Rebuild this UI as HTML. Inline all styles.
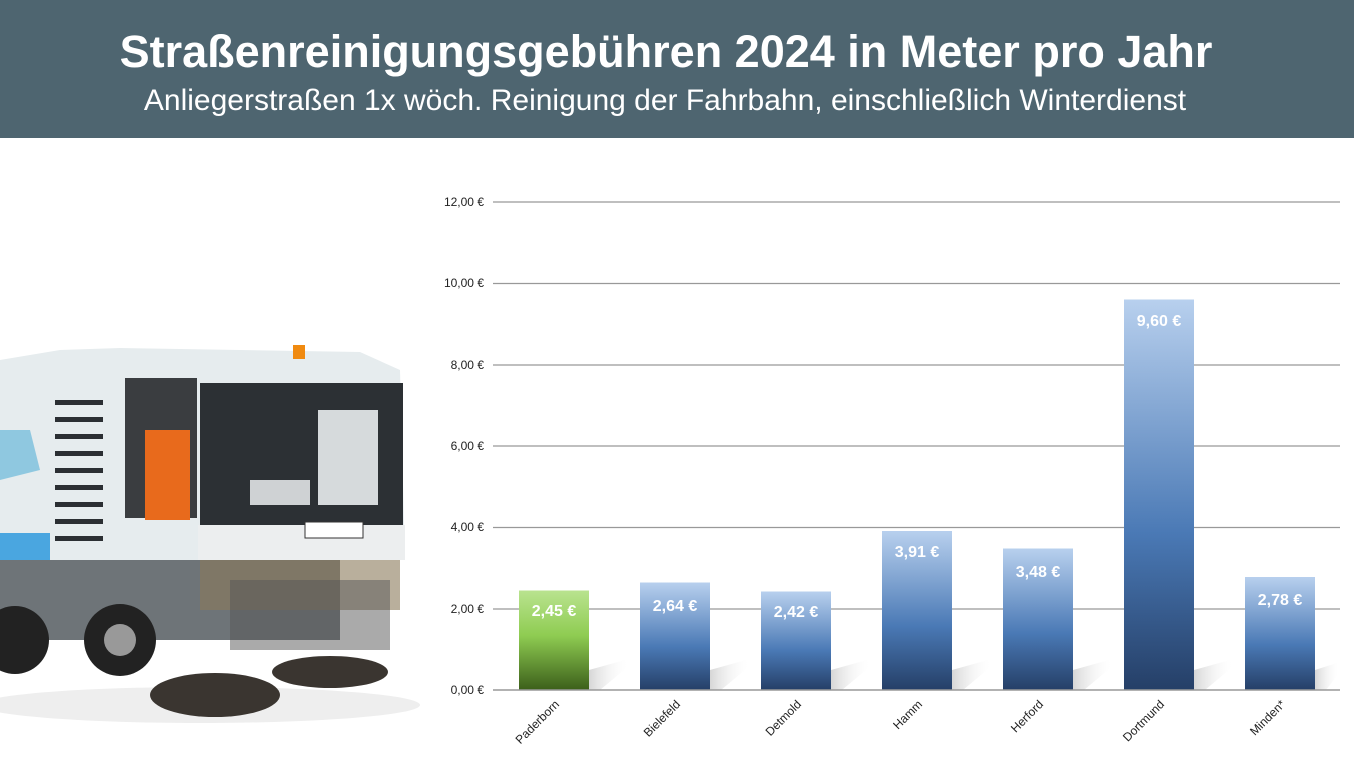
<!DOCTYPE html>
<html><head><meta charset="utf-8"><style>
body{margin:0;width:1354px;height:772px;background:#fff;overflow:hidden;font-family:"Liberation Sans",Arial,sans-serif;position:relative}
.hdr{position:absolute;left:0;top:0;width:1354px;height:138px;background:#4e6570;color:#fff;text-align:center}
.t1{position:absolute;left:0;right:0;top:26px;font-size:45px;font-weight:bold;text-align:center;white-space:nowrap}
.t2{position:absolute;left:0;right:0;top:84px;font-size:30px;white-space:nowrap}
</style></head><body>
<div class="hdr"><div class="t1" style="left:-22px">Straßenreinigungsgebühren 2024 in Meter pro Jahr</div><div class="t2" style="left:-24px">Anliegerstraßen 1x wöch. Reinigung der Fahrbahn, einschließlich Winterdienst</div></div>
<svg width="1354" height="772" style="position:absolute;left:0;top:0">
<defs>
<linearGradient id="b" x1="0" y1="0" x2="0" y2="1"><stop offset="0" stop-color="#b8d0ee"/><stop offset="0.6" stop-color="#4a79b5"/><stop offset="1" stop-color="#253f67"/></linearGradient>
<linearGradient id="g" x1="0" y1="0" x2="0" y2="1"><stop offset="0" stop-color="#b9e38f"/><stop offset="0.45" stop-color="#8fcc52"/><stop offset="1" stop-color="#3c5f1a"/></linearGradient>
<linearGradient id="sh" x1="0" y1="0" x2="1" y2="0"><stop offset="0" stop-color="#ccc"/><stop offset="1" stop-color="#fff" stop-opacity="0"/></linearGradient>
</defs>
<g>
<ellipse cx="200" cy="705" rx="220" ry="18" fill="#eee"/>
<path d="M0 360 L60 350 L120 348 L360 352 L400 370 L405 560 L0 560 Z" fill="#e6ecee"/>
<rect x="0" y="560" width="340" height="80" fill="#6e7478"/>
<rect x="0" y="533" width="50" height="27" fill="#4aa6e0"/>
<path d="M0 430 L30 430 L40 470 L0 480Z" fill="#8fc8e0"/>
<g fill="#2b2f33"><rect x="55" y="400" width="48" height="5"/><rect x="55" y="417" width="48" height="5"/><rect x="55" y="434" width="48" height="5"/><rect x="55" y="451" width="48" height="5"/><rect x="55" y="468" width="48" height="5"/><rect x="55" y="485" width="48" height="5"/><rect x="55" y="502" width="48" height="5"/><rect x="55" y="519" width="48" height="5"/><rect x="55" y="536" width="48" height="5"/></g>
<rect x="125" y="378" width="72" height="140" fill="#3a3d40"/>
<rect x="145" y="430" width="45" height="90" fill="#e86a1c"/>
<rect x="200" y="383" width="203" height="142" fill="#2c3034"/>
<rect x="318" y="410" width="60" height="95" fill="#d6dadc"/>
<rect x="250" y="480" width="60" height="25" fill="#cfd2d4"/>
<rect x="198" y="525" width="207" height="35" fill="#eceeef"/>
<rect x="305" y="522" width="58" height="16" fill="#fff" stroke="#333"/>
<rect x="293" y="345" width="12" height="14" fill="#f08a10"/>
<rect x="200" y="560" width="200" height="50" fill="#8a7a5a" opacity=".6"/>
<circle cx="120" cy="640" r="36" fill="#222"/><circle cx="120" cy="640" r="16" fill="#999"/>
<circle cx="15" cy="640" r="34" fill="#222"/>
<ellipse cx="215" cy="695" rx="65" ry="22" fill="#3a3530"/>
<ellipse cx="330" cy="672" rx="58" ry="16" fill="#3a3530"/>
<rect x="230" y="580" width="160" height="70" fill="#555" opacity=".5"/>
</g>
<g stroke="#999" stroke-width="1.3">
<line x1="493" x2="1340" y1="202" y2="202"/><line x1="493" x2="1340" y1="283.5" y2="283.5"/><line x1="493" x2="1340" y1="365" y2="365"/><line x1="493" x2="1340" y1="446" y2="446"/><line x1="493" x2="1340" y1="527.5" y2="527.5"/><line x1="493" x2="1340" y1="609" y2="609"/>
</g>
<g font-size="12" fill="#222" text-anchor="end">
<text x="484" y="206">12,00 €</text><text x="484" y="287">10,00 €</text><text x="484" y="369">8,00 €</text><text x="484" y="450">6,00 €</text><text x="484" y="531">4,00 €</text><text x="484" y="613">2,00 €</text><text x="484" y="694">0,00 €</text>
</g>
<g fill="url(#sh)" opacity=".8">
<polygon points="589,690 589,670 625,660 630,665 600,690"/><polygon points="710,690 710,670 746,660 751,665 721,690"/><polygon points="831,690 831,670 867,660 872,665 842,690"/><polygon points="952,690 952,670 988,660 993,665 963,690"/><polygon points="1073,690 1073,670 1109,660 1114,665 1084,690"/><polygon points="1194,690 1194,670 1230,660 1235,665 1205,690"/><polygon points="1315,690 1315,670 1340,662 1340,672 1326,690"/>
</g>
<rect x="519" y="590.5" width="70" height="99.5" fill="url(#g)"/>
<rect x="640" y="582.5" width="70" height="107.5" fill="url(#b)"/>
<rect x="761" y="591.5" width="70" height="98.5" fill="url(#b)"/>
<rect x="882" y="531" width="70" height="159" fill="url(#b)"/>
<rect x="1003" y="548.5" width="70" height="141.5" fill="url(#b)"/>
<rect x="1124" y="299.5" width="70" height="390.5" fill="url(#b)"/>
<rect x="1245" y="577" width="70" height="113" fill="url(#b)"/>
<line x1="493" x2="1340" y1="690" y2="690" stroke="#999" stroke-width="1.5"/>
<g font-size="16" font-weight="bold" fill="#fff" text-anchor="middle">
<text x="554" y="616">2,45 €</text><text x="675" y="611">2,64 €</text><text x="796" y="617">2,42 €</text><text x="917" y="557">3,91 €</text><text x="1038" y="577">3,48 €</text><text x="1159" y="326">9,60 €</text><text x="1280" y="605">2,78 €</text>
</g>
<g font-size="12" fill="#222" text-anchor="end">
<text transform="translate(560,705) rotate(-45)">Paderborn</text>
<text transform="translate(681,705) rotate(-45)">Bielefeld</text>
<text transform="translate(802,705) rotate(-45)">Detmold</text>
<text transform="translate(923,705) rotate(-45)">Hamm</text>
<text transform="translate(1044,705) rotate(-45)">Herford</text>
<text transform="translate(1165,705) rotate(-45)">Dortmund</text>
<text transform="translate(1286,705) rotate(-45)">Minden*</text>
</g>
</svg>
</body></html>
